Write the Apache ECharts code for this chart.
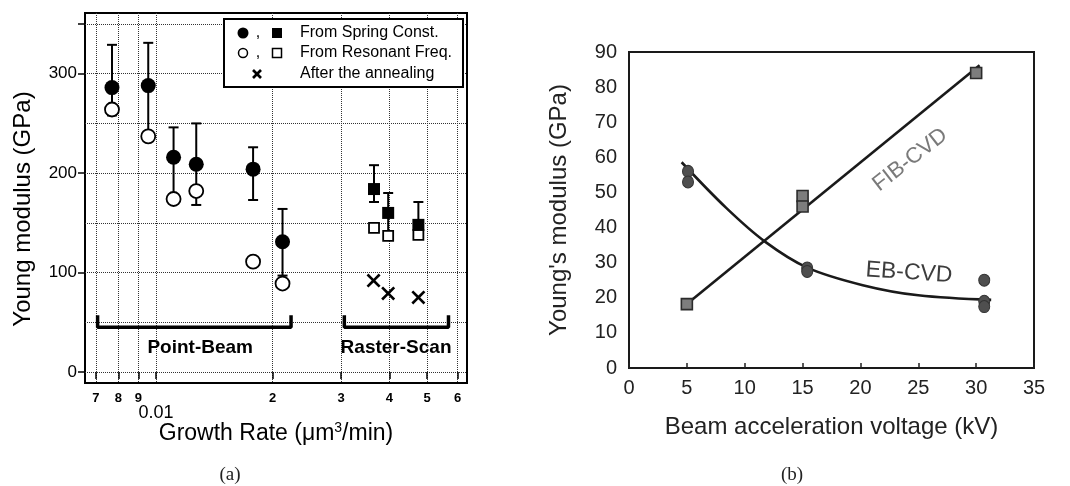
<!DOCTYPE html>
<html>
<head>
<meta charset="utf-8">
<script src="https://cdn.jsdelivr.net/npm/echarts@6/dist/echarts.min.js"></script>
<style>
  html, body { margin: 0; padding: 0; background: #fff; }
  #chart { width: 1070px; height: 486px; }
</style>
</head>
<body>
<div id="chart"></div>
<script>
// ---------- (a) Young modulus vs. growth rate ----------
// Point-beam deposits (circles)
const ptRate          = [0.0077, 0.00955, 0.0111, 0.0127, 0.0178, 0.0212];
const ptSpring        = [286, 288, 216, 209, 204, 131];
const ptSpringHigh    = [329, 331, 246, 250, 226, 164];
const ptSpringLow     = [258, 240, 177, 168, 173, 97];
const ptResonant      = [264, 237, 174, 182, 111, 89];
// Raster-scan deposits (squares)
const rsRate          = [0.0365, 0.0397, 0.0475];
const rsSpring        = [184, 160, 148];
const rsSpringHigh    = [208, 180, 171];
const rsSpringLow     = [171, 140, 138];
const rsResonant      = [145, 137, 138];
// After annealing (crosses)
const annealRate      = [0.0364, 0.0397, 0.0475];
const annealModulus   = [92, 79, 75];
// Growth-rate axis ticks
const rateTicks       = [0.007, 0.008, 0.009, 0.01, 0.02, 0.03, 0.04, 0.05, 0.06];
const rateTickLabels  = ['7', '8', '9', '0.01', '2', '3', '4', '5', '6'];
const modulusTicks    = [0, 100, 200, 300, 350];
const modulusLabels   = [0, 100, 200, 300];
const modulusGrid     = [0, 50, 100, 150, 200, 250, 300, 350];
// Deposition-mode brackets: [start rate, end rate]
const pointBeamSpan   = [0.00707, 0.0223];
const rasterScanSpan  = [0.0306, 0.0568];
const bracketLevels   = [57, 45];
const groupNames      = ['Point-Beam', 'Raster-Scan'];
const groupLabelPos   = [[0.0130, 24], [0.0416, 24]];

// ---------- (b) Young's modulus vs. beam acceleration voltage ----------
const fibVoltage      = [5, 15, 15, 30];
const fibModulus      = [18.2, 49, 46, 84];
const ebVoltage       = [5.1, 5.1, 15.4, 15.4, 30.7, 30.7, 30.7];
const ebModulus       = [56, 53, 28.5, 27.5, 25, 19, 17.5];
// Trend lines
const fibFitVoltage   = [5, 30.3];
const fibFitModulus   = [18.2, 86.2];
const ebFitVoltage    = [4.55, 8.4, 11.75, 15.4, 20.2, 25, 31.3];
const ebFitModulus    = [58.6, 45.6, 36.0, 28.6, 23.6, 20.7, 19.4];

const zip = (a, b) => a.map((v, i) => [v, b[i]]);
const SANS = "'Liberation Sans', Arial, Helvetica, sans-serif";

const chart = echarts.init(document.getElementById('chart'), null, { renderer: 'canvas' });

function errorBarItem(params, api) {
  const x = api.value(0), lo = api.value(1), hi = api.value(2);
  const pLo = api.coord([x, lo]);
  const pHi = api.coord([x, hi]);
  const w = 5;
  const st = { stroke: '#000', lineWidth: 2 };
  return {
    type: 'group',
    children: [
      { type: 'line', shape: { x1: pLo[0], y1: pLo[1], x2: pHi[0], y2: pHi[1] }, style: st },
      { type: 'line', shape: { x1: pHi[0] - w, y1: pHi[1], x2: pHi[0] + w, y2: pHi[1] }, style: st },
      { type: 'line', shape: { x1: pLo[0] - w, y1: pLo[1], x2: pLo[0] + w, y2: pLo[1] }, style: st }
    ]
  };
}

const crossSymbol = 'path://M0,1.6L1.6,0L6,4.4L10.4,0L12,1.6L7.6,6L12,10.4L10.4,12L6,7.6L1.6,12L0,10.4L4.4,6Z';

const bracketData = (span) => [
  [span[0], bracketLevels[0]], [span[0], bracketLevels[1]],
  [span[1], bracketLevels[1]], [span[1], bracketLevels[0]]
];

const option = {
  animation: false,
  backgroundColor: '#fff',
  textStyle: { fontFamily: SANS },
  grid: [
    { left: 85, top: 13, right: 603, bottom: 103, show: true, borderColor: '#000', borderWidth: 2,
      backgroundColor: 'transparent', outerBoundsMode: 'none', containLabel: false },
    { left: 629, top: 52, right: 36, bottom: 118, show: true, borderColor: '#1a1a1a', borderWidth: 2,
      backgroundColor: 'transparent', outerBoundsMode: 'none', containLabel: false }
  ],
  xAxis: [
    {
      type: 'log', gridIndex: 0, logBase: 10, min: 0.00656, max: 0.0634,
      name: 'Growth Rate (\u03bcm{sup|3}/min)', nameLocation: 'middle', nameGap: 38, nameMoveOverlap: false,
      nameTextStyle: { fontSize: 23, color: '#000', fontFamily: SANS,
        rich: { sup: { fontSize: 14, verticalAlign: 'top', padding: [0, 0, 12, 0], color: '#000' } } },
      axisLine: { show: false },
      axisTick: { show: true, customValues: rateTicks, length: 7, lineStyle: { color: '#000', width: 1.5 } },
      axisLabel: {
        customValues: rateTicks, margin: 9, fontSize: 13, fontWeight: 'bold', color: '#000', fontFamily: SANS,
        formatter: (v) => {
          const i = rateTicks.findIndex(t => Math.abs(t - v) / t < 1e-6);
          const s = i >= 0 ? rateTickLabels[i] : '';
          return s === '0.01' ? '{big|' + s + '}' : s;
        },
        rich: { big: { fontSize: 18, fontWeight: 'normal', color: '#000', padding: [12, 0, 0, 0] } }
      },
      splitLine: { show: true, lineStyle: { type: 'dotted', color: '#333', width: 1 } }
    },
    {
      type: 'value', gridIndex: 1, min: 0, max: 35, interval: 5,
      name: 'Beam acceleration voltage (kV)', nameLocation: 'middle', nameGap: 47, nameMoveOverlap: false,
      nameTextStyle: { fontSize: 24, color: '#222', fontFamily: SANS },
      axisLine: { show: false },
      axisTick: { show: true, inside: true, length: 5, lineStyle: { color: '#222', width: 1.5 } },
      axisLabel: { margin: 10, fontSize: 20, color: '#222', fontFamily: SANS },
      splitLine: { show: false }
    }
  ],
  yAxis: [
    {
      type: 'value', gridIndex: 0, min: -11, max: 361,
      name: 'Young modulus (GPa)', nameLocation: 'middle', nameGap: 50, nameMoveOverlap: false,
      nameTextStyle: { fontSize: 24, color: '#000', fontFamily: SANS, padding: [0, 22, 0, 0] },
      axisLine: { show: false },
      axisTick: { show: true, customValues: modulusTicks, length: 7, lineStyle: { color: '#000', width: 1.5 } },
      axisLabel: { customValues: modulusLabels, margin: 8, fontSize: 17, color: '#000', fontFamily: SANS },
      splitLine: { show: false }
    },
    {
      type: 'value', gridIndex: 0, min: -11, max: 361,
      axisLine: { show: false },
      axisTick: { show: false, customValues: modulusGrid },
      axisLabel: { show: false },
      splitLine: { show: true, lineStyle: { type: 'dotted', color: '#333', width: 1 } }
    },
    {
      type: 'value', gridIndex: 1, min: 0, max: 90, interval: 10,
      name: "Young's modulus (GPa)", nameLocation: 'middle', nameGap: 58, nameMoveOverlap: false,
      nameTextStyle: { fontSize: 24, color: '#222', fontFamily: SANS },
      axisLine: { show: false },
      axisTick: { show: false },
      axisLabel: { margin: 12, fontSize: 20, color: '#222', fontFamily: SANS },
      splitLine: { show: false }
    }
  ],
  series: [
    // ----- panel (a) -----
    {
      name: 'bracket-point', type: 'line', xAxisIndex: 0, yAxisIndex: 0,
      data: bracketData(pointBeamSpan), symbol: 'none',
      lineStyle: { color: '#000', width: 3.5 }, z: 3
    },
    {
      name: 'bracket-raster', type: 'line', xAxisIndex: 0, yAxisIndex: 0,
      data: bracketData(rasterScanSpan), symbol: 'none',
      lineStyle: { color: '#000', width: 3.5 }, z: 3
    },
    {
      name: 'group-labels', type: 'scatter', xAxisIndex: 0, yAxisIndex: 0,
      symbolSize: 0,
      itemStyle: { opacity: 1 },
      data: groupLabelPos.map((p, i) => ({ name: groupNames[i], value: p })),
      label: { show: true, position: 'inside', formatter: '{b}', fontSize: 19, fontWeight: 'bold',
        color: '#000', opacity: 1, fontFamily: SANS },
      z: 3
    },
    {
      name: 'error-point', type: 'custom', xAxisIndex: 0, yAxisIndex: 0,
      renderItem: errorBarItem,
      encode: { x: 0, y: [1, 2] },
      data: ptRate.map((r, i) => [r, ptSpringLow[i], ptSpringHigh[i]]), z: 4
    },
    {
      name: 'error-raster', type: 'custom', xAxisIndex: 0, yAxisIndex: 0,
      renderItem: errorBarItem,
      encode: { x: 0, y: [1, 2] },
      data: rsRate.map((r, i) => [r, rsSpringLow[i], rsSpringHigh[i]]), z: 4
    },
    {
      name: 'From Resonant Freq. (point)', type: 'scatter', xAxisIndex: 0, yAxisIndex: 0,
      data: zip(ptRate, ptResonant), symbol: 'circle', symbolSize: 14,
      itemStyle: { color: '#fff', borderColor: '#000', borderWidth: 1.8, opacity: 1 }, z: 5
    },
    {
      name: 'From Resonant Freq. (raster)', type: 'scatter', xAxisIndex: 0, yAxisIndex: 0,
      data: zip(rsRate, rsResonant), symbol: 'rect', symbolSize: 10,
      itemStyle: { color: '#fff', borderColor: '#000', borderWidth: 1.8, opacity: 1 }, z: 5
    },
    {
      name: 'From Spring Const. (point)', type: 'scatter', xAxisIndex: 0, yAxisIndex: 0,
      data: zip(ptRate, ptSpring), symbol: 'circle', symbolSize: 15,
      itemStyle: { color: '#000', opacity: 1 }, z: 6
    },
    {
      name: 'From Spring Const. (raster)', type: 'scatter', xAxisIndex: 0, yAxisIndex: 0,
      data: zip(rsRate, rsSpring), symbol: 'rect', symbolSize: 12,
      itemStyle: { color: '#000', opacity: 1 }, z: 6
    },
    {
      name: 'After the annealing', type: 'scatter', xAxisIndex: 0, yAxisIndex: 0,
      data: zip(annealRate, annealModulus), symbol: crossSymbol, symbolSize: 14,
      itemStyle: { color: '#000', opacity: 1 }, z: 6
    },
    // ----- panel (b) -----
    {
      name: 'FIB-CVD fit', type: 'line', xAxisIndex: 1, yAxisIndex: 2,
      data: zip(fibFitVoltage, fibFitModulus), symbol: 'none',
      lineStyle: { color: '#1a1a1a', width: 2.6 }, z: 3
    },
    {
      name: 'EB-CVD fit', type: 'line', xAxisIndex: 1, yAxisIndex: 2,
      data: zip(ebFitVoltage, ebFitModulus), symbol: 'none', smooth: 0.35,
      lineStyle: { color: '#1a1a1a', width: 2.6 }, z: 3
    },
    {
      name: 'EB-CVD', type: 'scatter', xAxisIndex: 1, yAxisIndex: 2,
      data: zip(ebVoltage, ebModulus), symbol: 'circle', symbolSize: [11, 12],
      itemStyle: { color: '#4f4f4f', borderColor: '#333', borderWidth: 1, opacity: 1 }, z: 4
    },
    {
      name: 'FIB-CVD', type: 'scatter', xAxisIndex: 1, yAxisIndex: 2,
      data: zip(fibVoltage, fibModulus), symbol: 'rect', symbolSize: 11,
      itemStyle: { color: '#7d7d7d', borderColor: '#2b2b2b', borderWidth: 1.6, opacity: 1 }, z: 4
    },
    {
      name: 'curve-labels', type: 'scatter', xAxisIndex: 1, yAxisIndex: 2, symbolSize: 0,
      itemStyle: { opacity: 1 },
      data: [
        { name: 'FIB-CVD', value: [24.3, 59.3],
          label: { rotate: 38, color: '#7a7a7a' } },
        { name: 'EB-CVD', value: [24.2, 27.1],
          label: { rotate: -4, color: '#3d3d3d', fontSize: 23 } }
      ],
      label: { show: true, position: 'inside', formatter: '{b}', fontSize: 22, opacity: 1, fontFamily: SANS },
      z: 5
    }
  ],
  graphic: [
    // legend of panel (a)
    { type: 'rect', z: 100, shape: { x: 224, y: 19, width: 239, height: 68 },
      style: { fill: '#fff', stroke: '#000', lineWidth: 2 } },
    { type: 'circle', z: 101, shape: { cx: 243, cy: 33, r: 5.5 }, style: { fill: '#000' } },
    { type: 'text', z: 101, x: 258, y: 33, style: { text: ',', font: '16px ' + SANS, fill: '#000', align: 'center', verticalAlign: 'middle' } },
    { type: 'rect', z: 101, shape: { x: 272, y: 28, width: 10, height: 10 }, style: { fill: '#000' } },
    { type: 'text', z: 101, x: 300, y: 33, style: { text: 'From Spring Const.', font: '16px ' + SANS, fill: '#000', verticalAlign: 'middle' } },
    { type: 'circle', z: 101, shape: { cx: 243, cy: 53, r: 4.5 }, style: { fill: '#fff', stroke: '#000', lineWidth: 1.5 } },
    { type: 'text', z: 101, x: 258, y: 53, style: { text: ',', font: '16px ' + SANS, fill: '#000', align: 'center', verticalAlign: 'middle' } },
    { type: 'rect', z: 101, shape: { x: 272.5, y: 48.5, width: 9, height: 9 }, style: { fill: '#fff', stroke: '#000', lineWidth: 1.5 } },
    { type: 'text', z: 101, x: 300, y: 53, style: { text: 'From Resonant Freq.', font: '16px ' + SANS, fill: '#000', verticalAlign: 'middle' } },
    { type: 'line', z: 101, shape: { x1: 253, y1: 70, x2: 261, y2: 78 }, style: { stroke: '#000', lineWidth: 2.6 } },
    { type: 'line', z: 101, shape: { x1: 261, y1: 70, x2: 253, y2: 78 }, style: { stroke: '#000', lineWidth: 2.6 } },
    { type: 'text', z: 101, x: 300, y: 74, style: { text: 'After the annealing', font: '16px ' + SANS, fill: '#000', verticalAlign: 'middle' } },
    // panel captions
    { type: 'text', z: 101, x: 230, y: 475, style: { text: '(a)', font: "19px 'Liberation Serif', 'DejaVu Serif', serif", fill: '#222', align: 'center', verticalAlign: 'middle' } },
    { type: 'text', z: 101, x: 792, y: 475, style: { text: '(b)', font: "19px 'Liberation Serif', 'DejaVu Serif', serif", fill: '#222', align: 'center', verticalAlign: 'middle' } }
  ]
};

chart.setOption(option);
</script>
</body>
</html>
